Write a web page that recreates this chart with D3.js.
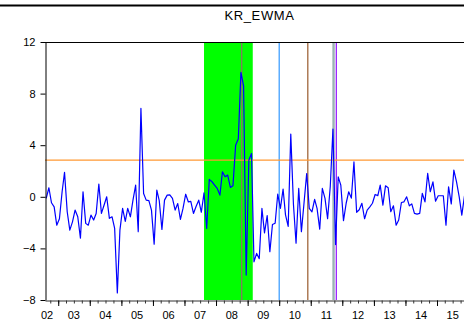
<!DOCTYPE html>
<html>
<head>
<meta charset="utf-8">
<script src="https://cdn.jsdelivr.net/npm/d3@7"></script>
<style>
  body { margin: 0; background: #fff; }
  svg { display: block; font-family: Arial, "Liberation Sans", sans-serif; }
</style>
</head>
<body>
<svg id="chart" width="464" height="320"></svg>
<script>
// monthly KR_EWMA series, first observation 2002M08
const startMonth = [2002, 7];
const krEwma = [
  -0.12, 0.7, -0.46, -0.78, -2.2, -1.7, 0.39, 1.9, -1.16, -2.58,
  -1.94, -1.03, -1.55, -3.2, 0.39, -2.06, -2.2, -1.42, -1.8, -1.29,
  0.98, -1.29, -0.64, 0.0, -1.67, -1.55, -2.45, -7.45, -2.58, -0.9,
  -1.9, -0.9, -1.55, -0.26, 0.9, -2.7, 6.85, 0.26, -0.26, -0.3,
  -1.03, -3.67, 0.52, -0.3, -2.53, -0.26, 0.13, 0.15, -0.13, -1.03,
  -0.52, -1.75, -0.9, 0.2, -0.4, -0.36, -1.29, -0.75, -0.26, -1.2,
  0.31, -2.45, 1.35, 1.17, 0.9, 0.65, 0.13, 1.94, 1.55, 1.68,
  0.73, 0.86, 4.0, 4.5, 9.64, 8.6, -6.07, 2.85, 3.36, -5.04,
  -4.39, -4.8, -0.9, -2.8, -1.45, -4.26, -2.15, -2.05, 0.2, -0.9,
  0.6, -1.4, -2.3, 4.86, -0.6, -3.6, 0.65, -2.7, -0.5, 1.8,
  -0.9, -1.16, -0.2, -0.9, -2.5, 0.65, -0.12, -1.7, 0.8, 5.25,
  -3.7, 1.55, 0.9, -1.85, -0.5, 0.39, -0.1, 2.7, -1.2, -1.0,
  -0.5, -1.7, -1.03, -0.78, -0.5, 0.18, 0.09, 0.9, -0.64, 0.85,
  0.7, -1.16, -0.7, -2.2, -1.8, -0.44, -0.39, 0.0, -0.7, -0.55,
  -1.29, -1.34, -1.29, 0.26, -0.39, 1.81, 0.39, 1.16, -0.34, 0.08,
  0.08, 0.08, -2.2, 0.78, -0.55, 2.07, 1.16, 0.0, -1.42, 0.07
];

const threshold = 2.84;
const crisisBand = ["2007-08-15", "2009-03-01"];
const eventDates = ["2008-10-24", "2010-01-01", "2010-11-28", "2011-09-22", "2011-10-24"];
const yTicks = [-8, -4, 0, 4, 8, 12];
const yearLabels = ["02", "03", "04", "05", "06", "07", "08", "09", "10", "11", "12", "13", "14", "15"];

const parse = d3.timeParse("%Y-%m-%d");
const series = krEwma.map((v, i) => ({
  date: new Date(startMonth[0], startMonth[1] + i, 15),
  value: v
}));

const plotLeft = 45, plotRight = 479, plotTop = 42, plotBottom = 300;
const svg = d3.select("#chart");

const x = d3.scaleTime()
  .domain([new Date(2002, 7, 1), new Date(2016, 4, 1)])
  .range([plotLeft, plotRight]);
const y = d3.scaleLinear().domain([-8, 12]).range([plotBottom, plotTop]);

// frame line at the top of the graph
svg.append("line")
  .attr("x1", 0).attr("x2", 464)
  .attr("y1", 5.5).attr("y2", 5.5)
  .attr("stroke", "#000").attr("stroke-width", 2);

svg.append("text")
  .attr("x", 259.5).attr("y", 20)
  .attr("text-anchor", "middle")
  .attr("font-size", 13)
  .attr("letter-spacing", 0.6)
  .attr("fill", "#000")
  .text("KR_EWMA");

svg.append("clipPath").attr("id", "plot-clip")
  .append("rect")
  .attr("x", plotLeft).attr("y", plotTop)
  .attr("width", plotRight - plotLeft).attr("height", plotBottom - plotTop);

const plot = svg.append("g").attr("clip-path", "url(#plot-clip)");

// shaded crisis period
plot.append("rect")
  .attr("x", x(parse(crisisBand[0])))
  .attr("y", plotTop)
  .attr("width", x(parse(crisisBand[1])) - x(parse(crisisBand[0])))
  .attr("height", plotBottom - plotTop)
  .attr("fill", "#00ff00");

// event lines
const eventColors = ["#8a7564", "#3399ff", "#a0663c", "#9bb3b3", "#9922ff"];
const eventWidths = [1.3, 1.2, 1.3, 2.4, 1.3];
plot.selectAll("line.event")
  .data(eventDates)
  .join("line")
  .attr("class", "event")
  .attr("x1", d => x(parse(d))).attr("x2", d => x(parse(d)))
  .attr("y1", plotTop).attr("y2", plotBottom)
  .attr("stroke", (d, i) => eventColors[i])
  .attr("stroke-width", (d, i) => eventWidths[i]);

plot.append("line")
  .attr("x1", plotLeft).attr("x2", plotRight)
  .attr("y1", y(threshold)).attr("y2", y(threshold))
  .attr("stroke", "#ff9933").attr("stroke-width", 1.3);

plot.append("path")
  .datum(series)
  .attr("fill", "none")
  .attr("stroke", "#0000ff")
  .attr("stroke-width", 1.2)
  .attr("stroke-linejoin", "round")
  .attr("d", d3.line().x(d => x(d.date)).y(d => y(d.value)));

// plot box top
svg.append("line")
  .attr("x1", plotLeft).attr("x2", plotRight)
  .attr("y1", plotTop + 0.5).attr("y2", plotTop + 0.5)
  .attr("stroke", "#000");

// y axis
const yAxis = svg.append("g")
  .attr("transform", `translate(${plotLeft + 0.5},0)`)
  .call(d3.axisLeft(y).tickValues(yTicks).tickSize(5).tickSizeOuter(0).tickPadding(5));
yAxis.selectAll("text").attr("font-size", 11).attr("fill", "#000").attr("font-family", "Arial, 'Liberation Sans', sans-serif");
yAxis.select(".domain").attr("stroke", "#000");

// x axis: quarterly minor ticks, yearly major ticks
const minorAxis = svg.append("g")
  .attr("transform", `translate(0,${plotBottom + 0.5})`)
  .call(d3.axisBottom(x).ticks(d3.timeMonth.every(3)).tickSize(3).tickSizeOuter(0).tickFormat(""));
minorAxis.select(".domain").attr("stroke", "#333");
minorAxis.selectAll(".tick line").attr("stroke", "#333");

const majorAxis = svg.append("g")
  .attr("transform", `translate(0,${plotBottom + 0.5})`)
  .call(d3.axisBottom(x).ticks(d3.timeYear.every(1)).tickSize(5.5).tickSizeOuter(0).tickFormat(""));
majorAxis.select(".domain").remove();
majorAxis.selectAll(".tick line").attr("stroke", "#000");

svg.append("g").selectAll("text")
  .data(yearLabels)
  .join("text")
  .attr("x", (d, i) => Math.max(plotLeft + 2, x(new Date(2002 + i, 6, 1))))
  .attr("y", 319)
  .attr("text-anchor", "middle")
  .attr("font-size", 11)
  .attr("fill", "#000")
  .text(d => d);
</script>
</body>
</html>
